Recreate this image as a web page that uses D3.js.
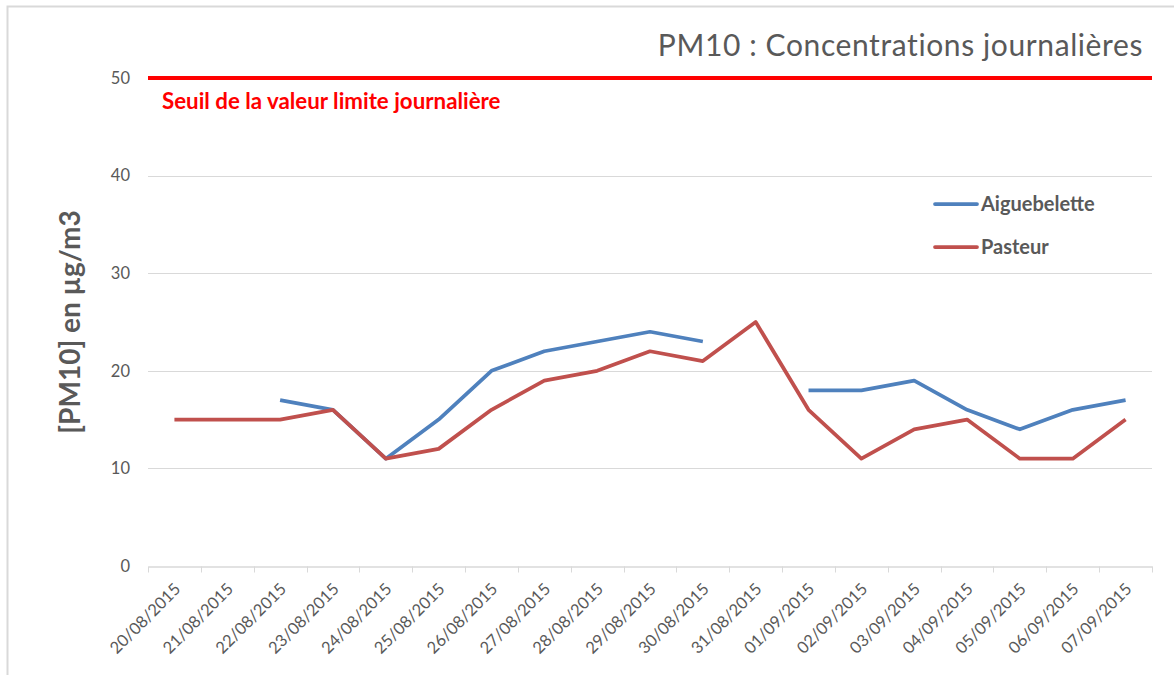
<!DOCTYPE html>
<html>
<head>
<meta charset="utf-8">
<script src="https://cdn.jsdelivr.net/npm/d3@7"></script>
<style>
  body { margin: 0; background: #fff; }
  svg { display: block; font-family: Lato, "Open Sans", sans-serif; }
</style>
</head>
<body>
<div id="chart"></div>
<script>
// Dates (categories) and daily PM10 values
const dates = ["20/08/2015", "21/08/2015", "22/08/2015", "23/08/2015", "24/08/2015",
    "25/08/2015", "26/08/2015", "27/08/2015", "28/08/2015", "29/08/2015",
    "30/08/2015", "31/08/2015", "01/09/2015", "02/09/2015", "03/09/2015",
    "04/09/2015", "05/09/2015", "06/09/2015", "07/09/2015"];
const aiguebelette = [null, null, 17, 16, 11, 15, 20, 22, 23, 24, 23, null, 18, 18, 19, 16, 14, 16, 17];
const pasteur = [15, 15, 15, 16, 11, 12, 16, 19, 20, 22, 21, 25, 16, 11, 14, 15, 11, 11, 15];
const yTicks = [0, 10, 20, 30, 40, 50];
const limitValue = 50;

const series = [
    { name: "Aiguebelette", values: aiguebelette, color: "#4f81bd" },
    { name: "Pasteur", values: pasteur, color: "#c0504d" }
];

const width = 1174;
const height = 675;
const margin = { left: 148, right: 22, top: 78, bottom: 109 };

const svg = d3.select("#chart")
    .append("svg")
    .attr("width", width)
    .attr("height", height);

// Outer frame
svg.append("rect")
    .attr("x", 7.5)
    .attr("y", 6.5)
    .attr("width", width)
    .attr("height", height)
    .attr("fill", "none")
    .attr("stroke", "#d9d9d9")
    .attr("stroke-width", 2);

const x = d3.scaleBand()
    .domain(dates)
    .range([margin.left, width - margin.right]);

const y = d3.scaleLinear()
    .domain([0, 50])
    .range([height - margin.bottom, margin.top]);

// Gridlines
svg.append("g")
    .selectAll("line")
    .data(yTicks.filter(d => d > 0 && d < limitValue))
    .join("line")
    .attr("x1", margin.left)
    .attr("x2", width - margin.right)
    .attr("y1", d => Math.round(y(d)) + 0.5)
    .attr("y2", d => Math.round(y(d)) + 0.5)
    .attr("stroke", "#d9d9d9")
    .attr("stroke-width", 1);

// Y tick labels
svg.append("g")
    .selectAll("text")
    .data(yTicks)
    .join("text")
    .attr("x", 130)
    .attr("y", d => y(d))
    .attr("dy", "0.35em")
    .attr("text-anchor", "end")
    .attr("font-size", "16.5px")
    .attr("fill", "#595959")
    .text(d => d);

// X axis line and ticks
const xAxis = svg.append("g")
    .attr("transform", `translate(0,${Math.round(y(0)) + 0.5})`)
    .call(d3.axisBottom(x).tickSize(0).tickFormat(""));
xAxis.select(".domain").attr("stroke", "#d9d9d9").attr("stroke-width", 1.5);

const boundaries = dates.map(d => x(d)).concat([width - margin.right]);
xAxis.selectAll(".bound")
    .data(boundaries)
    .join("line")
    .attr("class", "bound")
    .attr("x1", d => Math.round(d) + 0.5)
    .attr("x2", d => Math.round(d) + 0.5)
    .attr("y1", 0)
    .attr("y2", 6)
    .attr("stroke", "#d9d9d9");

// X labels, rotated
svg.append("g")
    .selectAll("text")
    .data(dates)
    .join("text")
    .attr("transform", d => `translate(${x(d) + x.bandwidth() / 2 + 3},${y(0) + 20}) rotate(-45)`)
    .attr("text-anchor", "end")
    .attr("dy", "0.35em")
    .attr("font-size", "16.5px")
    .attr("fill", "#595959")
    .text(d => d);

// Limit line
svg.append("line")
    .attr("x1", margin.left)
    .attr("x2", width - margin.right)
    .attr("y1", y(limitValue))
    .attr("y2", y(limitValue))
    .attr("stroke", "#ff0000")
    .attr("stroke-width", 4);

svg.append("text")
    .attr("x", 162)
    .attr("y", 109)
    .attr("font-size", "22.3px")
    .attr("font-weight", "bold")
    .attr("fill", "#ff0000")
    .text("Seuil de la valeur limite journalière");

// Series lines
const line = d3.line()
    .defined(d => d != null)
    .x((d, i) => x(dates[i]) + x.bandwidth() / 2)
    .y(d => y(d));

svg.append("g")
    .selectAll("path")
    .data(series)
    .join("path")
    .attr("fill", "none")
    .attr("stroke", d => d.color)
    .attr("stroke-width", 3.75)
    .attr("stroke-linejoin", "round")
    .attr("d", d => line(d.values));

// Legend
const legend = svg.append("g")
    .selectAll("g")
    .data(series)
    .join("g")
    .attr("transform", (d, i) => `translate(935,${204 + i * 43})`);

legend.append("line")
    .attr("x1", 0)
    .attr("x2", 42)
    .attr("stroke", d => d.color)
    .attr("stroke-width", 3.75)
    .attr("stroke-linecap", "round");

legend.append("text")
    .attr("x", 46)
    .attr("dy", "0.35em")
    .attr("font-size", "20px")
    .attr("font-weight", "bold")
    .attr("fill", "#595959")
    .text(d => d.name);

// Title
svg.append("text")
    .attr("x", 1143)
    .attr("y", 56)
    .attr("text-anchor", "end")
    .attr("font-size", "30px")
    .attr("letter-spacing", "0.6px")
    .attr("fill", "#595959")
    .text("PM10 : Concentrations journalières");

// Y axis title
svg.append("text")
    .attr("transform", `translate(70,${(y(0) + y(50)) / 2}) rotate(-90)`)
    .attr("text-anchor", "middle")
    .attr("dy", "0.35em")
    .attr("font-size", "28px")
    .attr("font-weight", "bold")
    .attr("fill", "#595959")
    .text("[PM10] en µg/m3");
</script>
</body>
</html>
